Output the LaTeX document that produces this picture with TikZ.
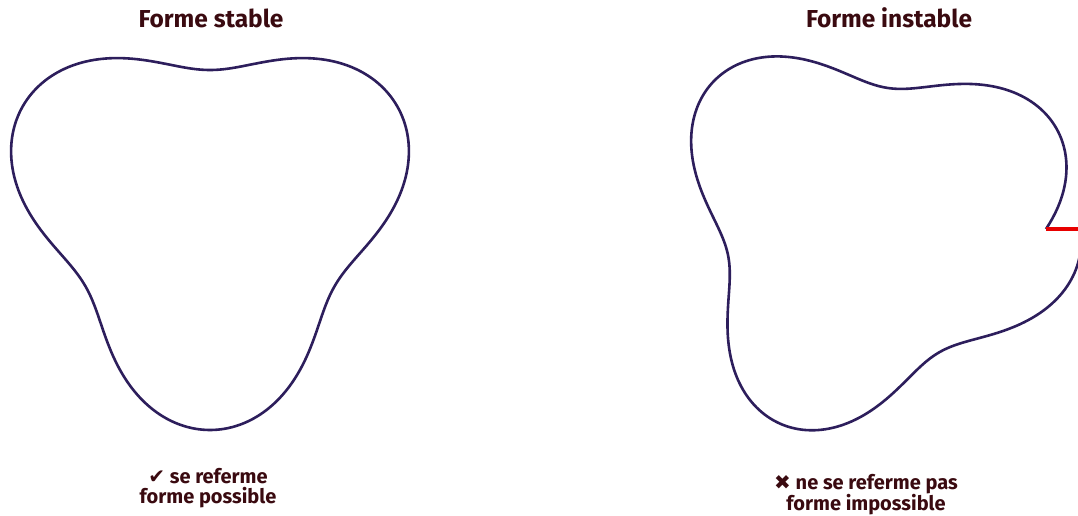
\documentclass[tikz,border=0pt]{standalone}
\usepackage{fontspec}
\setmainfont{Fira Sans}
\newfontfamily\symfont{DejaVu Sans}
\definecolor{curvec}{RGB}{45,30,92}
\definecolor{textc}{RGB}{58,10,16}
\definecolor{gapred}{RGB}{232,0,0}
\tikzset{
  shapeline/.style={draw=curvec, line width=2.6pt, line join=round},
  gapline/.style={draw=gapred, line width=3.2pt},
  titletext/.style={text=textc, font=\fontsize{24.5}{28}\selectfont\bfseries, inner sep=0pt, anchor=base},
  labeltext/.style={text=textc, font=\fontsize{20}{22}\selectfont\bfseries, inner sep=0pt, anchor=base},
}
\begin{document}
\begin{tikzpicture}[x=1pt,y=1pt]
\useasboundingbox (0,0) rectangle (1078,515);
\clip (0,0) rectangle (1078,515);
\fill[white] (0,0) rectangle (1078,515);
% stable shape
\draw[shapeline] plot[domain=0:360, samples=361, smooth, variable=\t]
  ({210 + 180*(1+0.2*sin(3*\t))*cos(\t)}, {301 + 180*(1+0.2*sin(3*\t))*sin(\t)}) -- cycle;
% unstable shape
\draw[shapeline] plot[domain=0:360, samples=361, smooth, variable=\t]
  ({868 + 178*(1+0.2*sin(3.3*\t))*cos(\t)}, {286 + 178*(1+0.2*sin(3.3*\t))*sin(\t)});
\coordinate (gapstart) at ({868+178}, 286);
\coordinate (gapend) at ({868+178*(1+0.2*sin(1188))}, 286);
\draw[gapline] (gapstart) -- (gapend);
% titles
\node[titletext] (t1) at (211,487) {Forme stable};
\node[titletext] (t2) at (889,487) {Forme instable};
% labels
\node[labeltext] (l1a) at (208,32) {{\symfont ✔} se referme};
\node[labeltext] (l1b) at (208,12) {forme possible};
\node[labeltext] (l2a) at (866,26) {{\symfont ✖} ne se referme pas};
\node[labeltext] (l2b) at (866,5) {forme impossible};
\end{tikzpicture}
\end{document}
